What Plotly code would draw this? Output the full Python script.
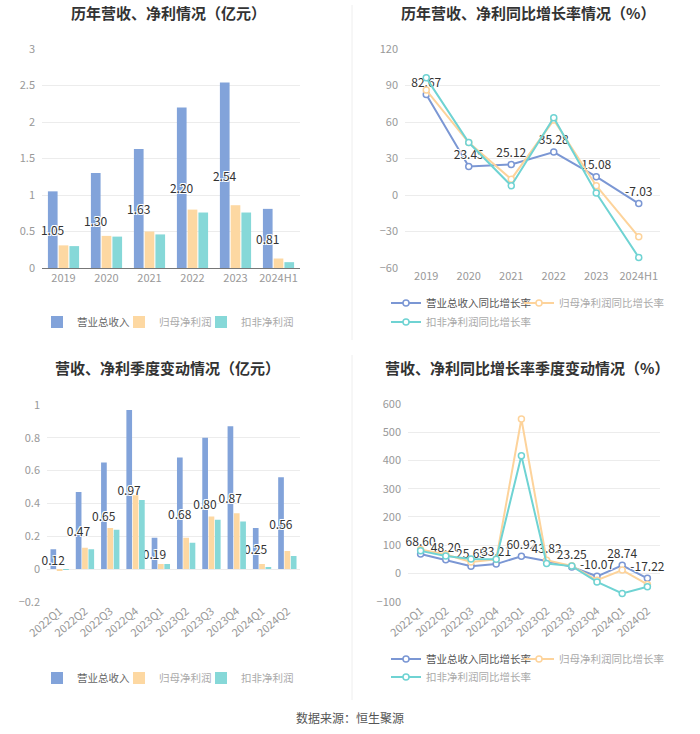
import plotly.graph_objects as go

# ---------------- data ----------------
years = ["2019", "2020", "2021", "2022", "2023", "2024H1"]
rev = [1.05, 1.30, 1.63, 2.20, 2.54, 0.81]
net_profit = [0.31, 0.44, 0.50, 0.80, 0.86, 0.13]
deduct_profit = [0.30, 0.43, 0.46, 0.76, 0.76, 0.08]

rev_g = [82.67, 23.45, 25.12, 35.28, 15.08, -7.03]
net_g = [86.2, 43.1, 13.0, 61.6, 7.6, -34.4]
deduct_g = [96.3, 43.1, 7.6, 63.5, 1.6, -51.3]

quarters = ["2022Q1", "2022Q2", "2022Q3", "2022Q4", "2023Q1",
            "2023Q2", "2023Q3", "2023Q4", "2024Q1", "2024Q2"]
q_rev = [0.12, 0.47, 0.65, 0.97, 0.19, 0.68, 0.80, 0.87, 0.25, 0.56]
q_net = [-0.01, 0.13, 0.25, 0.45, 0.03, 0.19, 0.32, 0.34, 0.03, 0.11]
q_deduct = [-0.005, 0.12, 0.24, 0.42, 0.03, 0.16, 0.30, 0.29, 0.01, 0.08]

q_rev_g = [68.60, 48.20, 25.65, 33.21, 60.92, 43.82, 23.25, -10.07, 28.74, -17.22]
q_net_g = [85, 67, 41, 50, 547, 47, 27, -24, 12, -39]
q_deduct_g = [80, 62, 51, 50, 417, 35, 26, -30, -71, -47]

names_bar = ["营业总收入", "归母净利润", "扣非净利润"]
names_line = ["营业总收入同比增长率", "归母净利润同比增长率", "扣非净利润同比增长率"]

# ---------------- style ----------------
W, H = 700, 734
FONT = "Noto Sans CJK SC"
C_BLUE, C_ORANGE, C_TEAL = "#82a3da", "#fdd8a2", "#86d8d8"
L_BLUE, L_ORANGE, L_TEAL = "#7b97d4", "#fdd39b", "#6fd3d3"
HALO = "-1px -1px 0 #fff, 1px -1px 0 #fff, -1px 1px 0 #fff, 1px 1px 0 #fff"


def px_x(x):
    return x / W


def px_y(y):
    return 1 - y / H


fig = go.Figure()


def fmt(v):
    return f"{v:.2f}"


def legend_id(n):
    return "legend" if n == 1 else f"legend{n}"


def add_bars(xcats, series, xa, ya, leg_ids):
    colors = [C_BLUE, C_ORANGE, C_TEAL]
    label_colors = ["#666", "#aaa", "#aaa"]
    for i, (vals, nm) in enumerate(zip(series, names_bar)):
        kw = {}
        if i == 0:
            kw = dict(text=[fmt(v) for v in vals], textposition="inside",
                      insidetextanchor="middle", constraintext="none", textangle=0,
                      insidetextfont=dict(color="#333", size=12, family=FONT, shadow=HALO))
        fig.add_trace(go.Bar(
            x=xcats, y=vals, marker_color=colors[i], marker_line_width=0,
            name=f"<span style='color:{label_colors[i]}'>{nm}</span>",
            xaxis=xa, yaxis=ya, legend=leg_ids[i], cliponaxis=False, **kw))


def add_lines(xcats, series, xa, ya, leg_ids):
    colors = [L_BLUE, L_ORANGE, L_TEAL]
    label_colors = ["#555", "#aaa", "#aaa"]
    for i, (vals, nm) in enumerate(zip(series, names_line)):
        if i == 0:
            kw = dict(text=[fmt(v) for v in vals], textposition="top center",
                      textfont=dict(color="#333", size=12, family=FONT, shadow=HALO),
                      mode="lines+markers+text")
        else:
            kw = dict(mode="lines+markers")
        fig.add_trace(go.Scatter(
            x=xcats, y=vals, line=dict(color=colors[i], width=2),
            marker=dict(symbol="circle", size=6, color="white",
                        line=dict(color=colors[i], width=1.5)),
            name=f"<span style='color:{label_colors[i]}'>{nm}</span>",
            xaxis=xa, yaxis=ya, legend=leg_ids[i], cliponaxis=False, **kw))


L = [legend_id(n) for n in range(1, 13)]
add_bars(years, [rev, net_profit, deduct_profit], "x", "y", L[0:3])
add_lines(years, [rev_g, net_g, deduct_g], "x2", "y2", L[3:6])
add_bars(quarters, [q_rev, q_net, q_deduct], "x3", "y3", L[6:9])
add_lines(quarters, [q_rev_g, q_net_g, q_deduct_g], "x4", "y4", L[9:12])

# ---------------- axes ----------------
tickfont = dict(color="#999", size=11, family=FONT)
grid = "#ececec"

panels = {
    1: dict(xd=[px_x(42), px_x(300)], yd=[px_y(268), px_y(49)], yr=[0, 3], dt=0.5, n=len(years)),
    2: dict(xd=[px_x(405), px_x(660)], yd=[px_y(268), px_y(49)], yr=[-60, 120], dt=30, n=len(years)),
    3: dict(xd=[px_x(47), px_x(300)], yd=[px_y(601.8), px_y(405)], yr=[-0.2, 1], dt=0.2, n=len(quarters)),
    4: dict(xd=[px_x(408), px_x(660)], yd=[px_y(601.7), px_y(404)], yr=[-100, 600], dt=100, n=len(quarters)),
}

layout = {}
for k, p in panels.items():
    sx = "" if k == 1 else str(k)
    rotated = k in (3, 4)
    layout[f"xaxis{sx}"] = dict(
        domain=p["xd"], anchor=f"y{sx}", type="category", automargin=False,
        tickfont=tickfont, showgrid=False, zeroline=False,
        showline=(k == 1), linecolor="#777", linewidth=1,
        ticks="", tickangle=-40 if rotated else 0, fixedrange=True,
        range=[-0.5, p["n"] - 0.5])
    layout[f"yaxis{sx}"] = dict(
        domain=p["yd"], anchor=f"x{sx}", range=p["yr"], dtick=p["dt"], automargin=False,
        tickfont=tickfont, gridcolor=grid, gridwidth=1, zeroline=False, showgrid=True,
        showline=False, ticks="", ticklabelstandoff=6, fixedrange=True)
    if k != 1:
        # zero baseline with tick marks at category centres
        y0, y1 = p["yd"]
        r0, r1 = p["yr"]
        pos = y0 + (0 - r0) / (r1 - r0) * (y1 - y0)
        layout[f"xaxis{k + 4}"] = dict(
            overlaying=f"x{sx}", anchor="free", position=pos, type="linear",
            range=[-0.5, p["n"] - 0.5], tickvals=list(range(p["n"])), automargin=False,
            showticklabels=False, ticks="outside", ticklen=4, tickcolor="#777",
            showline=True, linecolor="#777", linewidth=1, showgrid=False,
            zeroline=False, fixedrange=True)

fig.update_layout(**layout)

# ---------------- titles & source ----------------
titles = [
    ("历年营收、净利情况（亿元）", 168, 13),
    ("历年营收、净利同比增长率情况（%）", 528, 13),
    ("营收、净利季度变动情况（亿元）", 167, 367),
    ("营收、净利同比增长率季度变动情况（%）", 527, 367),
]
ann = []
for t, cx, cy in titles:
    ann.append(dict(text=f"<b>{t}</b>", x=px_x(cx), y=px_y(cy), xref="paper", yref="paper",
                    xanchor="center", yanchor="middle", showarrow=False,
                    font=dict(size=15, color="#333", family=FONT)))
ann.append(dict(text="数据来源：恒生聚源", x=0.5, y=px_y(717), xref="paper", yref="paper",
                xanchor="center", yanchor="middle", showarrow=False,
                font=dict(size=12, color="#555", family=FONT)))

shapes = [
    dict(type="line", xref="paper", yref="paper", x0=px_x(352), x1=px_x(352),
         y0=px_y(5), y1=px_y(340), line=dict(color="#eeeeee", width=1)),
    dict(type="line", xref="paper", yref="paper", x0=px_x(352), x1=px_x(352),
         y0=px_y(355), y1=px_y(700), line=dict(color="#eeeeee", width=1)),
]

legfont = dict(size=10.5, family=FONT, color="#999")


def leg(x, y):
    return dict(orientation="h", x=px_x(x), y=px_y(y), xanchor="left", yanchor="middle",
                font=legfont, bgcolor="rgba(0,0,0,0)", itemclick=False,
                itemdoubleclick=False, borderwidth=0)


# legend positions (px): bar legends, line legends (two rows)
legend_pos = [
    (37, 322), (119, 322), (201, 322),
    (386, 303), (519, 303), (386, 322),
    (37, 678), (119, 678), (201, 678),
    (386, 659), (519, 659), (386, 677),
]
legends = {lid: leg(x, y) for lid, (x, y) in zip(L, legend_pos)}

fig.update_layout(
    template="none",
    width=W, height=H, margin=dict(l=0, r=0, t=0, b=0, autoexpand=False),
    paper_bgcolor="white", plot_bgcolor="white",
    barmode="group", bargap=0.25, bargroupgap=0.1,
    showlegend=True,
    annotations=ann, shapes=shapes,
    font=dict(family=FONT),
    hovermode=False,
    **legends,
)

fig.write_html("out.html", config={"displayModeBar": False},
               post_script="document.body.style.margin='0px';")
